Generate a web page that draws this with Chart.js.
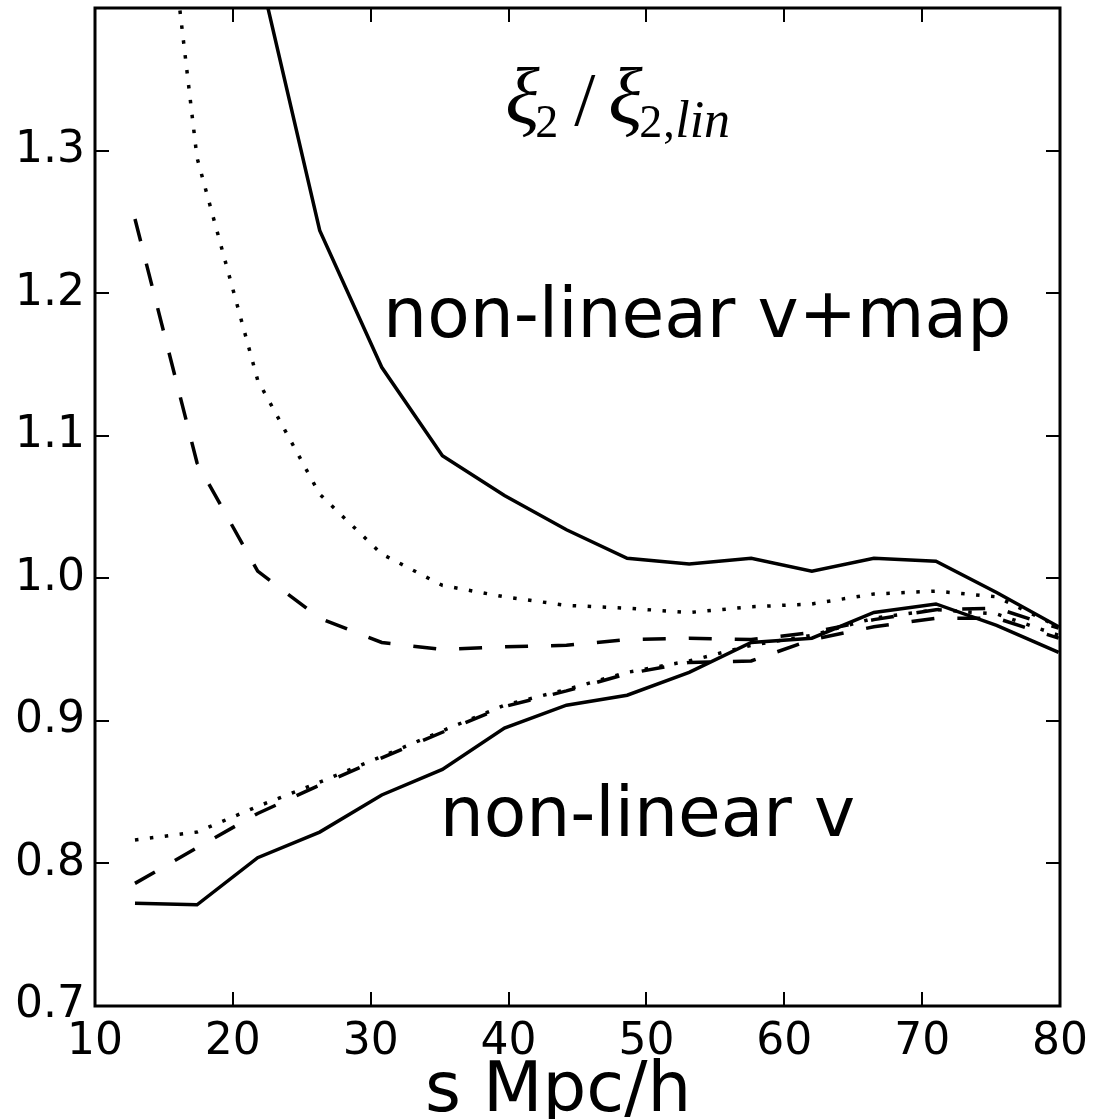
<!DOCTYPE html>
<html>
<head>
<meta charset="utf-8">
<script src="https://cdn.jsdelivr.net/npm/chart.js@4.4.1/dist/chart.umd.min.js"></script>
<style>
html,body{margin:0;padding:0;background:#ffffff;}
#wrap{width:1094px;height:1119px;position:relative;}
</style>
</head>
<body>
<div id="wrap"><canvas id="c" width="1094" height="1119"></canvas></div>
<script>
// separation s (Mpc/h)
const sValues = [12.9, 17.4, 21.8, 26.3, 30.8, 35.2, 39.7, 44.2, 48.6, 53.1, 57.6, 62.0, 66.5, 71.0, 75.4, 79.9];

// "non-linear v+map" group
const mapSolid  = [2.60, 1.85, 1.431, 1.244, 1.148, 1.086, 1.058, 1.034, 1.014, 1.010, 1.014, 1.005, 1.014, 1.012, 0.990, 0.966];
const mapDotted = [1.67, 1.295, 1.139, 1.059, 1.017, 0.995, 0.987, 0.981, 0.979, 0.976, 0.980, 0.982, 0.989, 0.991, 0.987, 0.966];
const mapDashed = [1.252, 1.081, 1.005, 0.972, 0.955, 0.950, 0.952, 0.953, 0.957, 0.958, 0.957, 0.962, 0.971, 0.978, 0.979, 0.965];

// "non-linear v" group
const vSolid  = [0.772, 0.771, 0.804, 0.822, 0.848, 0.866, 0.895, 0.911, 0.918, 0.934, 0.955, 0.958, 0.976, 0.982, 0.967, 0.948];
const vDashed = [0.786, 0.811, 0.835, 0.855, 0.874, 0.892, 0.910, 0.921, 0.933, 0.941, 0.942, 0.957, 0.966, 0.972, 0.972, 0.958];
const vDotted = [0.8165, 0.822, 0.840, 0.857, 0.875, 0.893, 0.911, 0.922, 0.934, 0.942, 0.953, 0.960, 0.972, 0.978, 0.975, 0.960];

const xTickValues = [10, 20, 30, 40, 50, 60, 70, 80];
const yTickValues = [0.7, 0.8, 0.9, 1.0, 1.1, 1.2, 1.3];

const xLabelText = "s Mpc/h";
const labelUpper = "non-linear v+map";
const labelLower = "non-linear v";

const SOLID = [];
const DOTTED = [3.5, 11.5];
const DASHED = [23, 23];

function series(values, dash) {
  return {
    data: sValues.map((s, i) => ({x: s, y: values[i]})),
    borderColor: '#000000',
    borderWidth: 3.5,
    borderDash: dash,
    borderCapStyle: 'butt',
    borderJoinStyle: 'miter',
    pointRadius: 0,
    pointHoverRadius: 0,
    fill: false,
    tension: 0
  };
}

const decor = {
  id: 'decor',
  afterDraw(chart) {
    const ctx = chart.ctx;
    const a = chart.chartArea;
    const xs = chart.scales.x, ys = chart.scales.y;
    ctx.save();
    // inward ticks on all four sides
    ctx.strokeStyle = '#000';
    ctx.lineWidth = 2;
    ctx.beginPath();
    xTickValues.forEach(v => {
      const px = Math.round(xs.getPixelForValue(v));
      ctx.moveTo(px, a.bottom); ctx.lineTo(px, a.bottom - 14);
      ctx.moveTo(px, a.top); ctx.lineTo(px, a.top + 14);
    });
    yTickValues.forEach(v => {
      const py = Math.round(ys.getPixelForValue(v));
      ctx.moveTo(a.left, py); ctx.lineTo(a.left + 14, py);
      ctx.moveTo(a.right, py); ctx.lineTo(a.right - 14, py);
    });
    ctx.stroke();
    // frame
    ctx.lineWidth = 3;
    ctx.strokeRect(a.left, a.top, a.right - a.left, a.bottom - a.top);

    // annotations
    ctx.fillStyle = '#000';
    ctx.textBaseline = 'alphabetic';
    ctx.textAlign = 'left';
    ctx.font = '69.5px "DejaVu Sans"';
    ctx.fillText(labelUpper, xs.getPixelForValue(30.9), ys.getPixelForValue(1.169));
    ctx.fillText(labelLower, xs.getPixelForValue(35.0), ys.getPixelForValue(0.819));

    // x-axis label
    ctx.font = '69px "DejaVu Sans"';
    ctx.fillText(xLabelText, 425, 1111);

    // title xi_2 / xi_{2,lin}
    const tx = xs.getPixelForValue(39.9);
    const tb = ys.getPixelForValue(1.319);
    const big = 'italic 80px "Liberation Serif"';
    const sub = '46px "Liberation Serif"';
    const subIt = 'italic 52px "Liberation Serif"';
    ctx.font = big; ctx.fillText('ξ', tx - 2, tb);
    ctx.font = sub; ctx.fillText('2', tx + 28, tb + 14);
    ctx.font = '76px "Liberation Serif"'; ctx.fillText('/', tx + 67, tb + 2);
    ctx.font = big; ctx.fillText('ξ', tx + 101, tb);
    ctx.font = sub; ctx.fillText('2', tx + 132, tb + 14);
    ctx.font = sub; ctx.fillText(',', tx + 156, tb + 14);
    ctx.font = subIt; ctx.fillText('lin', tx + 168, tb + 14);
    ctx.restore();
  }
};

new Chart(document.getElementById('c'), {
  type: 'line',
  data: {
    datasets: [
      series(mapSolid, SOLID),
      series(mapDotted, DOTTED),
      series(mapDashed, DASHED),
      series(vSolid, SOLID),
      series(vDashed, DASHED),
      series(vDotted, DOTTED)
    ]
  },
  options: {
    responsive: false,
    animation: false,
    devicePixelRatio: 1,
    layout: {padding: {left: 0, right: 34, top: 8, bottom: 0}},
    plugins: {legend: {display: false}, tooltip: {enabled: false}, title: {display: false}},
    scales: {
      x: {
        type: 'linear', min: 10, max: 80,
        afterBuildTicks: sc => { sc.ticks = xTickValues.map(v => ({value: v})); },
        afterFit: sc => { sc.height = 113; sc.paddingLeft = 0; sc.paddingRight = 0; sc.paddingTop = 0; sc.paddingBottom = 0; },
        grid: {display: false, drawTicks: false},
        border: {display: false},
        ticks: {
          color: '#000', font: {family: 'DejaVu Sans', size: 44},
          padding: 10, maxRotation: 0, autoSkip: false,
          callback: v => String(v)
        }
      },
      y: {
        type: 'linear', min: 0.7, max: 1.4,
        afterBuildTicks: sc => { sc.ticks = yTickValues.map(v => ({value: v})); },
        afterFit: sc => { sc.width = 95; sc.paddingLeft = 0; sc.paddingRight = 0; sc.paddingTop = 0; sc.paddingBottom = 0; },
        grid: {display: false, drawTicks: false},
        border: {display: false},
        ticks: {
          color: '#000', font: {family: 'DejaVu Sans', size: 44},
          padding: 10, autoSkip: false,
          callback: v => Number(v).toFixed(1)
        }
      }
    }
  },
  plugins: [decor]
});
</script>
</body>
</html>
